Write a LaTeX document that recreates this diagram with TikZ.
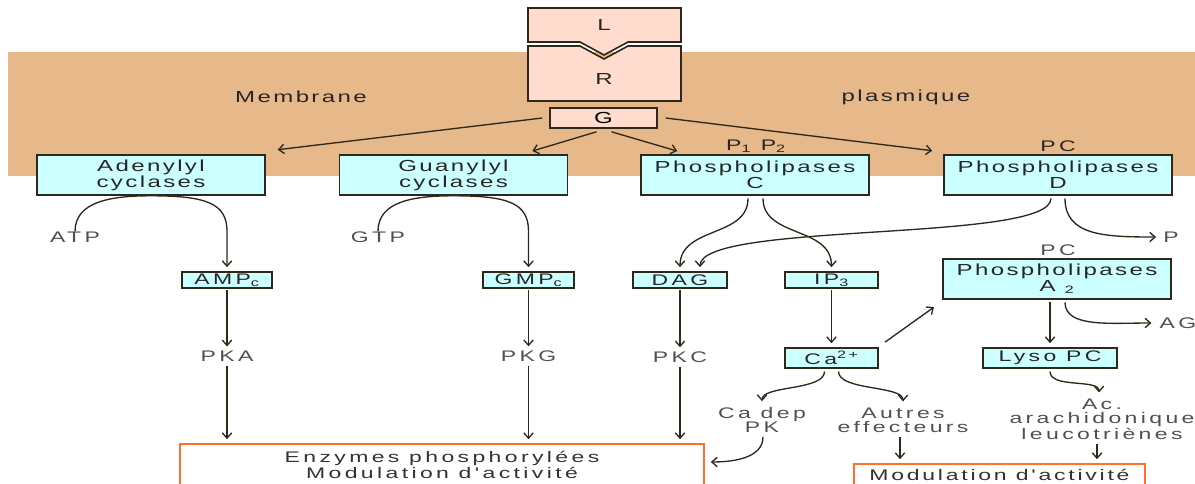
\documentclass[tikz,border=0pt]{standalone}
\usepackage{fontspec}
\setmainfont{Liberation Sans}
\newfontfamily\boxfont[FakeStretch=1.5,LetterSpace=15]{Liberation Sans}
\newfontfamily\lblfont[FakeStretch=1.5,LetterSpace=22]{Liberation Sans}
\newfontfamily\modfont[FakeStretch=1.5,LetterSpace=18]{Liberation Sans}
\usetikzlibrary{arrows.meta,calc}
\definecolor{bandclr}{RGB}{230,184,138}
\definecolor{cyanbox}{RGB}{204,255,255}
\definecolor{pinkbox}{RGB}{255,220,205}
\definecolor{orangeline}{RGB}{255,112,45}
\definecolor{lineclr}{RGB}{45,40,25}
\definecolor{lblclr}{RGB}{80,80,80}
\tikzset{
  bigbox/.style={draw=lineclr, line width=1.2pt, fill=cyanbox, inner sep=0pt,
    minimum width=171pt, minimum height=30pt, align=center,
    font=\boxfont\fontsize{12}{10.5}\selectfont, text=black!85},
  smallbox/.style={draw=lineclr, line width=1.2pt, fill=cyanbox, inner sep=0pt,
    minimum height=12pt, font=\lblfont\fontsize{11.5}{12}\selectfont, text=black!85},
  pinkstyle/.style={draw=lineclr, line width=1.2pt, fill=pinkbox},
  lbl/.style={inner sep=0pt, align=center, text=lblclr,
    font=\lblfont\fontsize{11.5}{10.5}\selectfont},
  bandlbl/.style={inner sep=0pt, align=center, text=black!85,
    font=\boxfont\fontsize{12}{12}\selectfont},
  orbox/.style={draw=orangeline, line width=1.2pt, fill=white, inner sep=0pt,
    align=center, font=\lblfont\fontsize{11.5}{10.5}\selectfont, text=black!80},
  arr/.style={draw=lineclr, line width=1pt, shorten >=3pt,
    -{Straight Barb[length=4pt,width=7pt]}},
}
\begin{document}
\begin{tikzpicture}[x=0.75pt,y=-0.75pt]
\useasboundingbox (0,0) rectangle (1195,484);
% membrane band
\fill[bandclr] (8,52) rectangle (1195,176);
\node[bandlbl] (memb) at (301,97) {Membrane};
\node[bandlbl] (plasm) at (906,97) {plasmique};
% ligand and receptor
\draw[pinkstyle] (528,8) -- (681,8) -- (681,42) -- (628,42) -- (604,55) -- (580,42) -- (528,42) -- cycle;
\draw[pinkstyle] (528,46) -- (580,46) -- (604,59) -- (628,46) -- (681,46) -- (681,101) -- (528,101) -- cycle;
\node[bandlbl] (L) at (604,25) {L};
\node[bandlbl] (R) at (604,79) {R};
\node[pinkstyle, inner sep=0pt, minimum width=80pt, minimum height=15pt,
  font=\boxfont\fontsize{12}{12}\selectfont] (G) at (603.5,118) {G};
% big boxes
\node[bigbox] (ad) at (151,175) {Adenylyl\\cyclases};
\node[bigbox] (gu) at (453.5,175) {Guanylyl\\cyclases};
\node[bigbox] (plc) at (755,175) {Phospholipases\\C};
\node[bigbox] (pld) at (1058,175) {Phospholipases\\D};
\node[bigbox] (pla) at (1057,279) {Phospholipases\\A \textsubscript{2}};
% labels
\node[lbl, text=black!85] (p12) at (756,146) {P\textsubscript{1} P\textsubscript{2}};
\node[lbl, text=black!85] (pc1) at (1058,146) {PC};
\node[lbl] (atp) at (75,237) {ATP};
\node[lbl] (gtp) at (378,237) {GTP};
\node[lbl] (p) at (1171,237) {P};
\node[lbl] (pc2) at (1058,250) {PC};
\node[lbl] (ag) at (1178,323) {AG};
\node[lbl] (pka) at (227,356) {PKA};
\node[lbl] (pkg) at (528.5,356) {PKG};
\node[lbl] (pkc) at (680,357) {PKC};
\node[lbl] (cadep) at (762,420) {Ca dep\\PK};
\node[lbl] (autres) at (903,420) {Autres\\effecteurs};
\node[lbl] (ac) at (1102,419) {Ac.\\arachidonique\\leucotriènes};
% small boxes
\node[smallbox, minimum width=67.5pt] (amp) at (227,280) {AMP\textsubscript{c}};
\node[smallbox, minimum width=68pt] (gmp) at (528.5,280) {GMP\textsubscript{c}};
\node[smallbox, minimum width=70.5pt] (dag) at (680,280) {DAG};
\node[smallbox, minimum width=70pt] (ip3) at (831.5,280) {IP\textsubscript{3}};
\node[smallbox, minimum width=70pt, minimum height=15pt] (ca) at (831.5,358) {Ca\textsuperscript{2+}};
\node[smallbox, minimum width=100.5pt, minimum height=15pt] (lyso) at (1050,358) {Lyso PC};
% orange boxes
\node[orbox, minimum width=393pt, minimum height=31.5pt] (en) at (442,465) {Enzymes phosphorylées\\Modulation d'activité};
\node[orbox, minimum width=218pt, minimum height=16.5pt, font=\modfont\fontsize{11.5}{11}\selectfont] (mod) at (999.5,475) {Modulation d'activité};
% helper coordinates
\coordinate (autresbot) at ($(autres.south)+(-3,0)$);
\coordinate (acbot) at ($(ac.south)+(-5,0)$);
% arrows from G
\draw[arr] ($(G.west)+(-7,0)$) -- ($(ad.north east)+(8,-4)$);
\draw[arr] ($(G.south)+(-7,3)$) -- ($(gu.north)+(75,-2)$);
\draw[arr] ($(G.south)+(8,3)$) -- ($(plc.north)+(-74,-2)$);
\draw[arr] ($(G.east)+(8,0)$) -- ($(pld.north west)+(-7,-3)$);
% cyclases
\draw[arr] (atp.north) .. controls +(0,-30) and +(-40,0) .. (ad.south)
  .. controls +(55,0) and +(0,-28) .. ($(amp.north)+(0,-40)$) -- (amp.north);
\draw[arr] (gtp.north) .. controls +(0,-30) and +(-40,0) .. (gu.south)
  .. controls +(55,0) and +(0,-28) .. ($(gmp.north)+(0,-40)$) -- (gmp.north);
\draw[arr, shorten <=1pt] (amp.south) -- (pka.north);
\draw[arr, shorten <=3pt] (pka.south) -- (pka.south |- en.north);
\draw[arr, shorten <=1pt] (gmp.south) -- (pkg.north);
\draw[arr, shorten <=3pt] (pkg.south) -- (pkg.south |- en.north);
% phospholipase C
\draw[arr, shorten <=2pt] ($(plc.south)+(-7,0)$) .. controls +(0,42) and +(0,-45) .. (dag.north);
\draw[arr, shorten <=2pt] ($(plc.south)+(8,0)$) .. controls +(0,42) and +(0,-45) .. (ip3.north);
\draw[arr, shorten <=1pt] (dag.south) -- (pkc.north);
\draw[arr, shorten <=3pt] (pkc.south) -- (pkc.south |- en.north);
\draw[arr, shorten <=1pt] (ip3.south) -- (ca.north);
% phospholipase D
\draw[arr, shorten <=2pt] ($(pld.south)+(-7,0)$) .. controls +(0,47) and +(0,-50) .. ($(dag.north)+(20,0)$);
\draw[arr, shorten <=2pt] ($(pld.south)+(7,0)$) .. controls +(0,40) and +(-55,0) .. ($(p.west)+(-3,0)$);
% calcium
\draw[arr] ($(ca.north east)+(6,-5)$) -- ($(pla.south west)+(-5,5)$);
\draw[arr, shorten <=2pt] ($(ca.south)+(-7,0)$) .. controls +(0,22) and +(0,-20) .. ($(cadep.north)+(0,-2)$);
\draw[arr, shorten <=2pt] ($(ca.south)+(7,0)$) .. controls +(0,22) and +(0,-20) .. ($(autres.north)+(0,-2)$);
\draw[arr, shorten <=3pt] ($(cadep.south)+(1,0)$) .. controls +(0,24) and +(30,0) .. ($(en.east)+(2,-3)$);
\draw[arr, shorten <=3pt] (autresbot) -- (autresbot |- mod.north);
% phospholipase A2
\draw[arr, shorten <=2pt] ($(pla.south)+(-7,0)$) -- (lyso.north);
\draw[arr, shorten <=2pt] ($(pla.south)+(8,0)$) .. controls +(0,28) and +(-45,0) .. ($(ag.west)+(-4,0)$);
\draw[arr, shorten <=2pt] (lyso.south) .. controls +(0,20) and +(0,-18) .. ($(ac.north)+(-3,-2)$);
\draw[arr, shorten <=3pt] (acbot) -- (acbot |- mod.north);
\end{tikzpicture}
\end{document}
